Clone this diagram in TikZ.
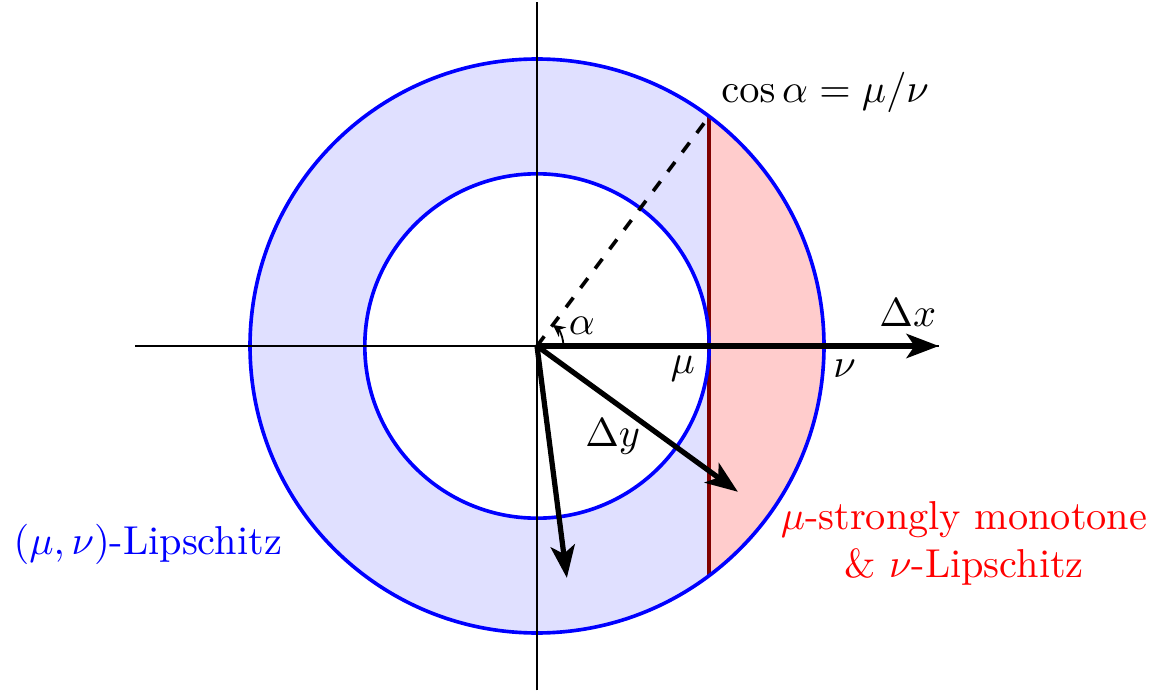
\documentclass[tikz,border=0pt]{standalone}
\usetikzlibrary{arrows.meta}
\begin{document}
\begin{tikzpicture}[
  ring/.style={blue, line width=0.9pt},
  vec/.style={line width=1.3pt, -{Stealth[length=8pt,width=6pt,inset=2pt]}},
  axisline/.style={line width=0.45pt}
]
\useasboundingbox (-4.678,-3.005) rectangle (5.453,3.014);
\coordinate (O) at (0,0);
\coordinate (P) at (1.5,2);
\coordinate (Pb) at (1.5,-2);
\coordinate (Xl) at (-3.5,0);
\coordinate (Xr) at (3.5,0);
\coordinate (Yt) at (0,3);
\coordinate (Yb) at (0,-3);
\coordinate (A) at (1.75,-1.27);
\coordinate (B) at (0.26,-2.02);
% fills
\fill[blue!12, even odd rule] (O) circle (2.5) (O) circle (1.5);
\fill[red!20] (P) arc[start angle=53.13, end angle=-53.13, radius=2.5] -- cycle;
\draw[red!50!black, line width=0.9pt] (P) -- (Pb);
\draw[ring] (O) circle (2.5);
\draw[ring] (O) circle (1.5);
% axes
\draw[axisline] (Xl) -- (Xr);
\draw[axisline] (Yb) -- (Yt);
% dashed radius and angle
\draw[dashed, line width=0.9pt] (O) -- (P);
\draw[line width=0.45pt, -{Stealth[length=3pt,width=3pt]}] (0.23,0) arc[start angle=0, end angle=53.13, radius=0.23];
% vectors
\draw[vec] (O) -- (Xr);
\draw[vec] (O) -- (A);
\draw[vec] (O) -- (B);
% labels
\node (dx) at (3.23,0.29) {$\Delta x$};
\node (nu) at (2.68,-0.2) {$\nu$};
\node (mu) at (1.27,-0.2) {$\mu$};
\node (al) at (0.39,0.18) {$\alpha$};
\node (dy) at (0.66,-0.79) {$\Delta y$};
\node[anchor=south west, inner sep=0pt] (cs) at (1.6,2.03) {$\cos\alpha = \mu/\nu$};
\node[blue] (bl) at (-3.39,-1.73) {$(\mu,\nu)$-Lipschitz};
\node[red, align=center] (rl) at (3.72,-1.72) {$\mu$-strongly monotone\\ \& $\nu$-Lipschitz};
\end{tikzpicture}
\end{document}
